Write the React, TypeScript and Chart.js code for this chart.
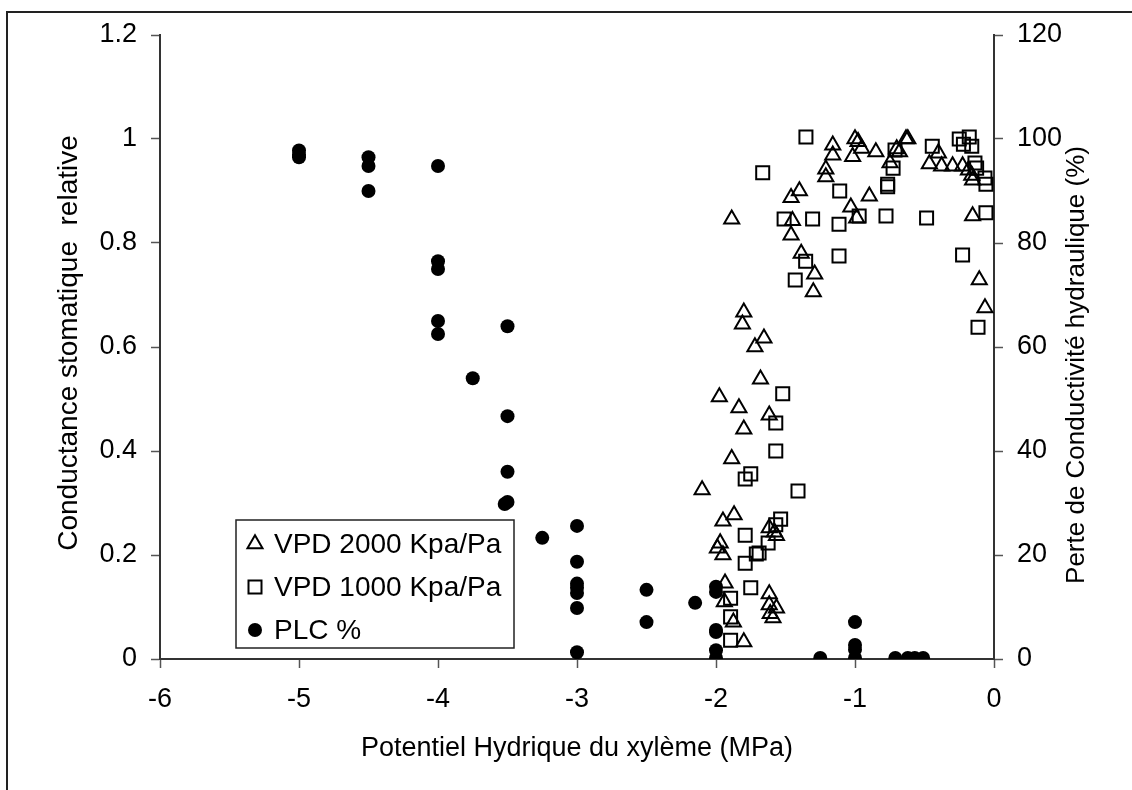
import React, { useEffect, useRef } from 'react';
import { Chart, registerables } from 'chart.js';
Chart.register(...registerables);

const FONT = '"Liberation Sans", Arial, sans-serif';

// VPD 2000 Kpa/Pa (triangles)
const vpd2000X = [-1.16, -1.16, -1.21, -1.21, -1.40, -1.46, -1.887, -1.45, -1.46, -1.387, -1.29, -1.30, -1.80, -1.0, -0.978, -0.952, -1.017, -0.85, -0.633, -0.62, -0.70, -0.68, -0.748, -0.40, -0.465, -0.377, -0.298, -0.226, -0.184, -0.16, -0.154, -0.897, -1.03, -0.988, -0.154, -0.106, -0.065, -1.81, -1.655, -1.72, -1.68, -1.976, -1.835, -1.617, -1.80, -1.887, -2.10, -1.87, -1.95, -1.617, -1.58, -1.565, -1.97, -1.99, -1.95, -1.935, -1.617, -1.94, -1.617, -1.565, -1.61, -1.59, -1.875, -1.80];
const vpd2000Y = [0.988, 0.969, 0.942, 0.927, 0.90, 0.887, 0.846, 0.843, 0.815, 0.78, 0.74, 0.706, 0.667, 1.0, 0.995, 0.982, 0.966, 0.975, 1.0, 1.0, 0.981, 0.975, 0.954, 0.973, 0.952, 0.948, 0.948, 0.948, 0.94, 0.93, 0.921, 0.89, 0.869, 0.848, 0.852, 0.729, 0.675, 0.644, 0.617, 0.60, 0.538, 0.504, 0.483, 0.469, 0.442, 0.385, 0.325, 0.277, 0.265, 0.252, 0.244, 0.237, 0.223, 0.213, 0.2, 0.146, 0.125, 0.11, 0.104, 0.098, 0.087, 0.079, 0.071, 0.033];

// VPD 1000 Kpa/Pa (squares)
const vpd1000X = [-1.353, -1.664, -1.11, -1.51, -1.305, -1.115, -1.355, -1.115, -1.43, -0.712, -0.726, -0.765, -0.765, -0.444, -0.25, -0.178, -0.22, -0.16, -0.137, -0.125, -0.065, -0.058, -0.97, -0.777, -0.485, -0.058, -0.226, -0.115, -1.52, -1.57, -1.57, -1.75, -1.79, -1.41, -1.535, -1.57, -1.79, -1.625, -1.69, -1.71, -1.79, -1.75, -1.895, -1.895, -1.895];
const vpd1000Y = [1.004, 0.935, 0.90, 0.846, 0.846, 0.836, 0.765, 0.775, 0.729, 0.979, 0.944, 0.913, 0.908, 0.986, 1.0, 1.004, 0.99, 0.986, 0.954, 0.944, 0.925, 0.913, 0.852, 0.852, 0.848, 0.858, 0.777, 0.638, 0.51, 0.454, 0.40, 0.356, 0.346, 0.323, 0.269, 0.258, 0.238, 0.223, 0.204, 0.202, 0.184, 0.137, 0.117, 0.081, 0.036];

// PLC % (filled circles, right axis)
const plcX = [-5, -5, -5, -4.5, -4.5, -4.5, -4, -4, -4, -4, -4, -3.75, -3.5, -3.5, -3.5, -3.5, -3.52, -3.25, -3, -3, -3, -3, -3, -3, -3, -2.5, -2.5, -2.15, -2, -2, -2, -2, -2, -2, -1.25, -1, -1, -1, -1, -0.71, -0.62, -0.57, -0.51];
const plcY = [97.8, 97, 96.5, 96.5, 94.8, 90, 94.8, 76.5, 75, 65, 62.5, 54, 64, 46.7, 36, 30.2, 29.8, 23.3, 25.6, 18.7, 14.5, 13.7, 12.7, 9.8, 1.3, 13.3, 7.1, 10.8, 13.9, 12.9, 5.6, 5.2, 1.7, 0.2, 0.2, 7.1, 2.7, 1.8, 0.2, 0.2, 0.2, 0.2, 0.2];

const xTicks = [-6, -5, -4, -3, -2, -1, 0];
const yLeftTicks = [0, 0.2, 0.4, 0.6, 0.8, 1, 1.2];
const yRightTicks = [0, 20, 40, 60, 80, 100, 120];

const legendLabels = ['VPD 2000 Kpa/Pa', 'VPD 1000 Kpa/Pa', 'PLC %'];
const xTitle = 'Potentiel Hydrique du xylème (MPa)';
const yLeftTitle = 'Conductance stomatique  relative';
const yRightTitle = 'Perte de Conductivité hydraulique (%)';

const zip = (xs: number[], ys: number[]) => xs.map((x, i) => ({ x, y: ys[i] }));

const decorPlugin = {
  id: 'decor',
  beforeDraw(chart: any) {
    const ctx = chart.ctx;
    ctx.save();
    ctx.fillStyle = '#ffffff';
    ctx.fillRect(0, 0, chart.width, chart.height);
    ctx.strokeStyle = '#222';
    ctx.lineWidth = 2;
    ctx.strokeRect(7, 12, 1300, 1000);
    ctx.restore();
  },
  afterDraw(chart: any) {
    const ctx = chart.ctx;
    const { left, right } = chart.chartArea;
    ctx.save();
    ctx.fillStyle = '#000';
    // x title
    ctx.font = `27px ${FONT}`;
    ctx.textAlign = 'center';
    ctx.textBaseline = 'alphabetic';
    ctx.fillText(xTitle, (left + right) / 2, 756);
    // left title
    ctx.save();
    ctx.font = `28px ${FONT}`;
    ctx.translate(69, 343);
    ctx.rotate(-Math.PI / 2);
    ctx.textBaseline = 'middle';
    ctx.fillText(yLeftTitle, 0, 0);
    ctx.restore();
    // right title
    ctx.save();
    ctx.font = `26px ${FONT}`;
    ctx.translate(1077, 365);
    ctx.rotate(-Math.PI / 2);
    ctx.textBaseline = 'middle';
    ctx.fillText(yRightTitle, 0, 0);
    ctx.restore();

    // legend
    const bx = 236, by = 520, bw = 278, bh = 128;
    ctx.fillStyle = '#fff';
    ctx.fillRect(bx, by, bw, bh);
    ctx.strokeStyle = '#222';
    ctx.lineWidth = 1.5;
    ctx.strokeRect(bx, by, bw, bh);
    const rows = [544, 587, 630];
    const mx = 255;
    ctx.lineWidth = 2;
    ctx.strokeStyle = '#000';
    // triangle
    {
      const r = 8.7, y = rows[0];
      ctx.beginPath();
      for (let k = 0; k < 3; k++) {
        const a = (k * 2 * Math.PI) / 3;
        const px = mx + Math.sin(a) * r;
        const py = y - Math.cos(a) * r;
        if (k === 0) ctx.moveTo(px, py); else ctx.lineTo(px, py);
      }
      ctx.closePath();
      ctx.stroke();
    }
    // square
    ctx.strokeRect(mx - 6.5, rows[1] - 6.5, 13, 13);
    // circle
    ctx.beginPath();
    ctx.arc(mx, rows[2], 7, 0, Math.PI * 2);
    ctx.fillStyle = '#000';
    ctx.fill();
    ctx.font = `28px ${FONT}`;
    ctx.textAlign = 'left';
    ctx.textBaseline = 'middle';
    legendLabels.forEach((t, i) => ctx.fillText(t, 274, rows[i] + 1));
    ctx.restore();
  },
};

export default function App() {
  const ref = useRef<HTMLCanvasElement>(null);
  useEffect(() => {
    const gridCfg = {
      drawOnChartArea: false,
      drawTicks: true,
      tickLength: 9,
      color: '#555',
      tickColor: '#555',
      tickWidth: 1.5,
    };
    const borderCfg = { display: true, color: '#333', width: 2 };
    const tickFont = { family: FONT, size: 27 };
    const chart = new Chart(ref.current as HTMLCanvasElement, {
      type: 'scatter',
      data: {
        datasets: [
          {
            label: legendLabels[0],
            data: zip(vpd2000X, vpd2000Y),
            yAxisID: 'y',
            pointStyle: 'triangle',
            pointRadius: 8.7,
            pointBorderWidth: 2,
            borderColor: '#000',
            backgroundColor: 'rgba(0,0,0,0)',
            pointBackgroundColor: 'rgba(0,0,0,0)',
            pointBorderColor: '#000',
          },
          {
            label: legendLabels[1],
            data: zip(vpd1000X, vpd1000Y),
            yAxisID: 'y',
            pointStyle: 'rect',
            pointRadius: 9.2,
            pointBorderWidth: 2,
            borderColor: '#000',
            backgroundColor: 'rgba(0,0,0,0)',
            pointBackgroundColor: 'rgba(0,0,0,0)',
            pointBorderColor: '#000',
          },
          {
            label: legendLabels[2],
            data: zip(plcX, plcY),
            yAxisID: 'y2',
            pointStyle: 'circle',
            pointRadius: 7,
            pointBorderWidth: 0,
            borderColor: '#000',
            backgroundColor: '#000',
            pointBackgroundColor: '#000',
          },
        ] as any,
      },
      options: {
        responsive: false,
        animation: false,
        devicePixelRatio: 1,
        layout: { padding: { top: 35, left: 0, right: 0, bottom: 0 } },
        plugins: { legend: { display: false }, tooltip: { enabled: false } },
        scales: {
          x: {
            type: 'linear',
            position: 'bottom',
            min: xTicks[0],
            max: xTicks[xTicks.length - 1],
            afterBuildTicks: (s: any) => { s.ticks = xTicks.map((v) => ({ value: v })); },
            ticks: { font: tickFont, color: '#000', padding: 15, callback: (v: any) => String(v) },
            grid: gridCfg,
            border: borderCfg,
            afterFit: (s: any) => { s.height = 131; },
          },
          y: {
            type: 'linear',
            position: 'left',
            min: 0,
            max: 1.2,
            afterBuildTicks: (s: any) => { s.ticks = yLeftTicks.map((v) => ({ value: v })); },
            ticks: { font: tickFont, color: '#000', padding: 14, callback: (v: any) => String(Number(Number(v).toFixed(1))) },
            grid: gridCfg,
            border: borderCfg,
            afterFit: (s: any) => { s.width = 160; },
          },
          y2: {
            type: 'linear',
            position: 'right',
            min: 0,
            max: 120,
            afterBuildTicks: (s: any) => { s.ticks = yRightTicks.map((v) => ({ value: v })); },
            ticks: { font: tickFont, color: '#000', padding: 14, callback: (v: any) => String(v) },
            grid: gridCfg,
            border: borderCfg,
            afterFit: (s: any) => { s.width = 138; },
          },
        },
      } as any,
      plugins: [decorPlugin],
    });
    return () => chart.destroy();
  }, []);
  return (
    <div style={{ position: 'absolute', left: 0, top: 0, width: 1132, height: 790, background: '#fff' }}>
      <canvas ref={ref} width={1132} height={790} style={{ display: 'block', width: 1132, height: 790 }} />
    </div>
  );
}
